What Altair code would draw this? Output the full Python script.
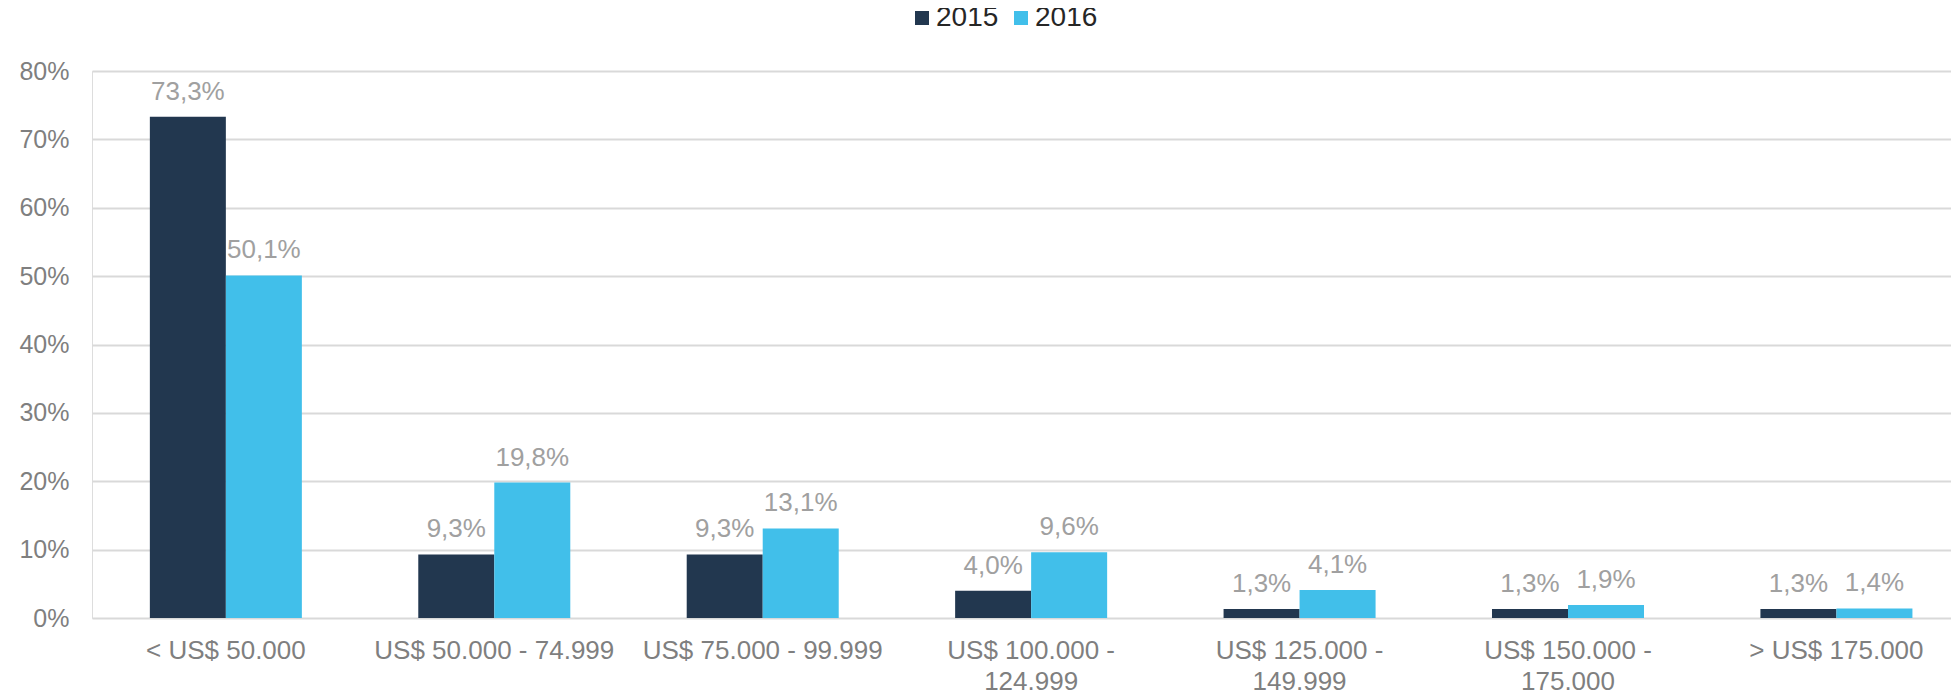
import altair as alt
import pandas as pd

categories = [
    "< US$ 50.000",
    "US$ 50.000 - 74.999",
    "US$ 75.000 - 99.999",
    "US$ 100.000 -\n124.999",
    "US$ 125.000 -\n149.999",
    "US$ 150.000 -\n175.000",
    "> US$ 175.000",
]
years = ["2015", "2016"]
values_2015 = [73.3, 9.3, 9.3, 4.0, 1.3, 1.3, 1.3]
values_2016 = [50.1, 19.8, 13.1, 9.6, 4.1, 1.9, 1.4]
y_ticks = [0, 10, 20, 30, 40, 50, 60, 70, 80]
colors = ["#22374f", "#41bfea"]

rows = []
for cat, v15, v16 in zip(categories, values_2015, values_2016):
    for yr, v in (("2015", v15), ("2016", v16)):
        rows.append({
            "category": cat,
            "year": yr,
            "value": v,
            "label": f"{v:.1f}".replace(".", ",") + "%",
        })
df = pd.DataFrame(rows)

FONT = "Liberation Sans"

base = alt.Chart(df).encode(
    x=alt.X(
        "category:N",
        sort=categories,
        scale=alt.Scale(paddingInner=0.4337, paddingOuter=0.1796, align=0.6),
        axis=alt.Axis(
            title=None,
            domain=False,
            ticks=False,
            labelAngle=0,
            labelFontSize=26,
            labelColor="#7f7f7f",
            labelFont=FONT,
            labelPadding=19,
            labelLineHeight=31,
            labelLimit=500,
            labelOverlap=False,
            labelExpr="split(datum.label, '\\n')",
        ),
    ),
    xOffset=alt.XOffset("year:N", sort=years, scale=alt.Scale(paddingInner=0, paddingOuter=0)),
    y=alt.Y(
        "value:Q",
        scale=alt.Scale(domain=[0, 80], nice=False),
        axis=alt.Axis(
            title=None,
            domain=False,
            ticks=False,
            values=y_ticks,
            grid=True,
            gridColor="#d9d9d9",
            gridWidth=2,
            labelFontSize=25,
            labelColor="#7f7f7f",
            labelFont=FONT,
            labelPadding=23,
            labelExpr="datum.value + '%'",
        ),
    ),
)

bars = base.mark_bar().encode(
    color=alt.Color(
        "year:N",
        sort=years,
        scale=alt.Scale(domain=years, range=colors),
        legend=alt.Legend(
            title=None,
            orient="none",
            legendX=816,
            legendY=-67,
            direction="horizontal",
            symbolType="square",
            symbolSize=196,
            symbolStrokeWidth=0,
            labelFontSize=28,
            labelColor="#262626",
            labelFont=FONT,
            labelOffset=0,
            columnPadding=8,
            padding=0,
        ),
    )
)

text = base.mark_text(
    baseline="alphabetic",
    dy=-17,
    fontSize=26,
    color="#a0a0a0",
    font=FONT,
).encode(text="label:N")

chart = (
    (bars + text)
    .properties(
        width=1859,
        height=547,
        autosize="none",
        padding={"left": 84, "top": 63, "right": 0, "bottom": 76},
    )
    .configure_view(strokeWidth=0)
    .configure(font=FONT)
)

chart.save("out.html", embed_options={"renderer": "svg", "actions": False})
